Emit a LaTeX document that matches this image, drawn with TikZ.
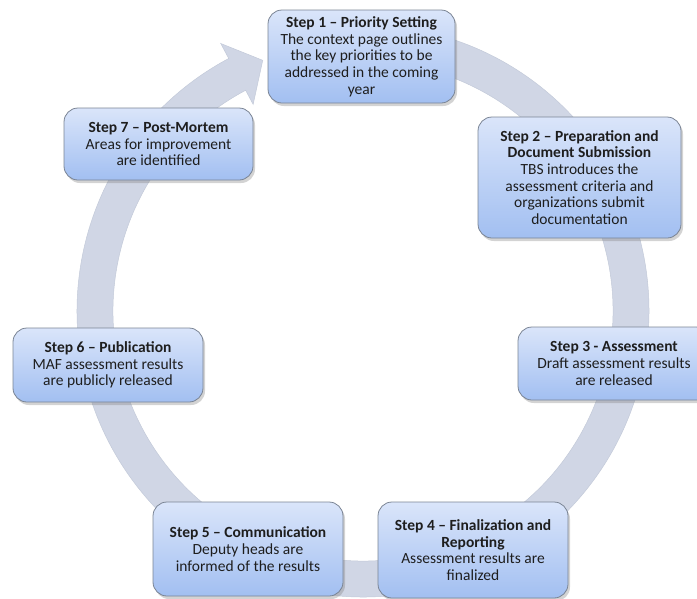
\documentclass[tikz,border=0pt]{standalone}
\usepackage{fontspec}
\setmainfont{Carlito}
\usetikzlibrary{shadows,shadings}
\definecolor{bandfill}{HTML}{D0D6E5}
\definecolor{banddraw}{HTML}{C3CAD9}
\definecolor{boxtop}{HTML}{DAE5FA}
\definecolor{boxbot}{HTML}{A2BFF1}
\definecolor{boxline}{HTML}{7A8494}
\definecolor{txt}{HTML}{1E1E1E}
\tikzset{
  stepbox/.style={rounded corners=14pt, draw=boxline, line width=0.8pt,
    top color=boxtop, bottom color=boxbot, align=center, text=txt,
    font=\fontsize{15.5}{16.7}\selectfont, inner sep=1pt,
    drop shadow={opacity=0.35, shadow xshift=2pt, shadow yshift=-3pt}},
  band/.style={fill=bandfill, draw=banddraw, line width=0.5pt}
}
\begin{document}
\begin{tikzpicture}[x=1pt,y=-1pt]
\useasboundingbox (0,0) rectangle (697,598);
% circular arrow
\coordinate (c) at (363,311);
\draw[band, shift={(363,311)}]
  (-85:286) arc[start angle=-85, end angle=242, radius=286]
  -- (242:303) -- (248.2:270) -- (242:234) -- (242:250)
  arc[start angle=242, end angle=-85, radius=250] -- cycle;
% boxes
\node[stepbox, minimum width=187pt, minimum height=93pt] (s1) at (361.5,56.5)
  {\textbf{Step 1 – Priority Setting}\\The context page outlines\\the key priorities to be\\addressed in the coming\\year};
\node[stepbox, minimum width=203pt, minimum height=121pt] (s2) at (579.5,177.5)
  {\textbf{Step 2 – Preparation and}\\\textbf{Document Submission}\\TBS introduces the\\assessment criteria and\\organizations submit\\documentation};
\node[stepbox, minimum width=192pt, minimum height=73pt] (s3) at (614,363.5)
  {\textbf{Step 3 - Assessment}\\Draft assessment results\\are released};
\node[stepbox, minimum width=190pt, minimum height=96pt] (s4) at (473,550)
  {\textbf{Step 4 – Finalization and}\\\textbf{Reporting}\\Assessment results are\\finalized};
\node[stepbox, minimum width=190pt, minimum height=94pt] (s5) at (248,549)
  {\textbf{Step 5 – Communication}\\Deputy heads are\\informed of the results};
\node[stepbox, minimum width=190pt, minimum height=74pt] (s6) at (108,365)
  {\textbf{Step 6 – Publication}\\MAF assessment results\\are publicly released};
\node[stepbox, minimum width=189pt, minimum height=72pt] (s7) at (158.5,144)
  {\textbf{Step 7 – Post-Mortem}\\Areas for improvement\\are identified};
\end{tikzpicture}
\end{document}
